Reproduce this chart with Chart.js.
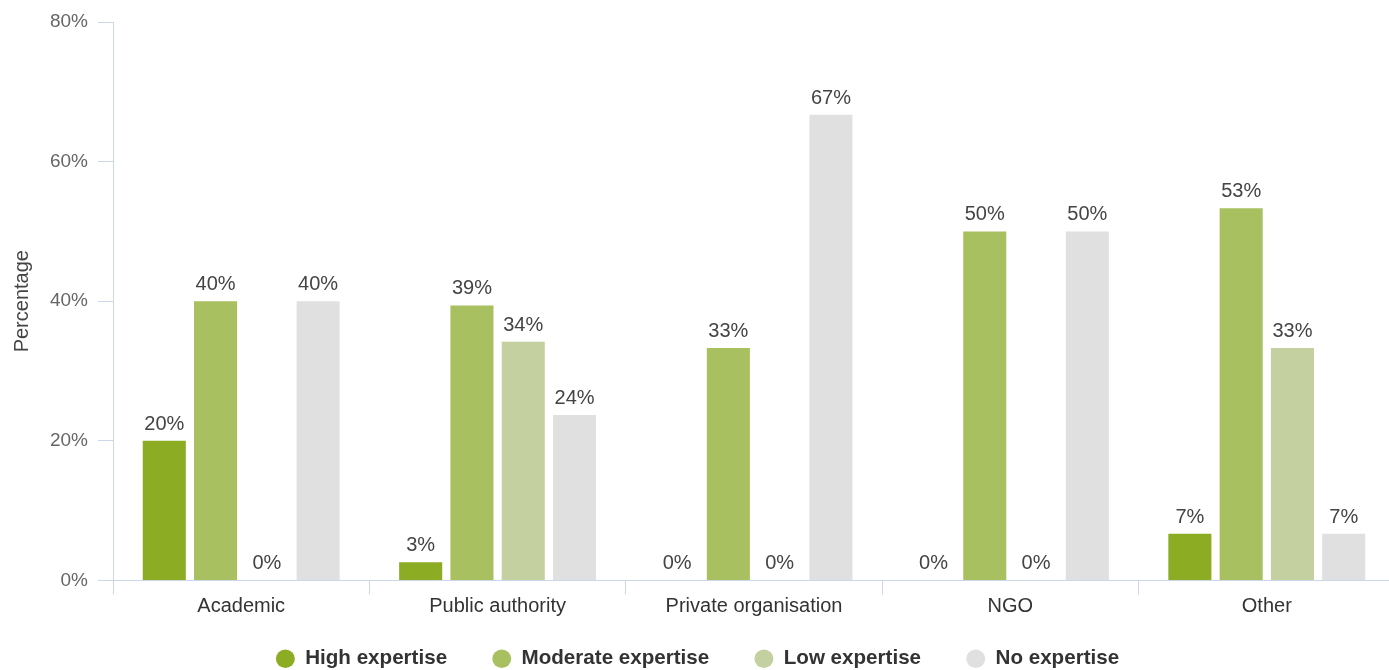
<!DOCTYPE html>
<html>
<head>
<meta charset="utf-8">
<title>Expertise by organisation type</title>
<script src="https://cdn.jsdelivr.net/npm/chart.js@4/dist/chart.umd.min.js"></script>
<style>
  html, body { margin: 0; padding: 0; background: #fff; overflow: hidden; }
  #wrap { width: 1400px; height: 679px; }
</style>
</head>
<body>
<div id="wrap"><canvas id="chart" width="1400" height="679"></canvas></div>
<script>
// Share of respondents per expertise level, by organisation type (%)
const categories = ["Academic", "Public authority", "Private organisation", "NGO", "Other"];
const highExpertise     = [20, 2.6, 0, 0, 6.7];
const moderateExpertise = [40, 39.4, 33.3, 50, 53.3];
const lowExpertise      = [0, 34.2, 0, 0, 33.3];
const noExpertise       = [40, 23.7, 66.7, 50, 6.7];
const yTicks = [0, 20, 40, 60, 80];

const FONT = "'Liberation Sans', Arial, sans-serif";
const AXIS = "#ccd6eb";

const ds = (label, data, color) => ({
  label, data, backgroundColor: color, borderWidth: 0,
});

// value labels above each bar
const valueLabels = {
  id: "valueLabels",
  afterDatasetsDraw(chart) {
    const ctx = chart.ctx;
    ctx.save();
    ctx.font = "20px " + FONT;
    ctx.fillStyle = "#444";
    ctx.textAlign = "center";
    ctx.textBaseline = "alphabetic";
    chart.data.datasets.forEach((d, i) => {
      chart.getDatasetMeta(i).data.forEach((bar, j) => {
        ctx.fillText(Math.round(d.data[j]) + "%", bar.x, bar.y - 11);
      });
    });
    ctx.restore();
  },
};

new Chart(document.getElementById("chart"), {
  type: "bar",
  data: {
    labels: categories,
    datasets: [
      ds("High expertise", highExpertise, "#8bac23"),
      ds("Moderate expertise", moderateExpertise, "#a8c060"),
      ds("Low expertise", lowExpertise, "#c4d0a0"),
      ds("No expertise", noExpertise, "#e0e0e0"),
    ],
  },
  options: {
    responsive: false,
    animation: false,
    layout: { padding: { top: 22, right: 5, left: 0, bottom: 0 } },
    datasets: { bar: { categoryPercentage: 0.8, barPercentage: 0.84 } },
    scales: {
      x: {
        afterFit: (s) => { s.height = 40; },
        border: { color: AXIS, width: 1 },
        grid: { drawOnChartArea: false, color: AXIS, tickLength: 14, offset: true },
        ticks: { color: "#333", padding: 0, font: { family: FONT, size: 20 } },
      },
      y: {
        min: 0, max: 80,
        afterFit: (s) => { s.width = 113; },
        afterBuildTicks: (s) => { s.ticks = yTicks.map((v) => ({ value: v })); },
        border: { color: AXIS, width: 1 },
        grid: { drawOnChartArea: false, color: AXIS, tickLength: 15 },
        ticks: {
          color: "#666", padding: 10, font: { family: FONT, size: 19 },
          callback: (v) => v + "%",
        },
        title: {
          display: true, text: "Percentage", color: "#444",
          padding: { top: 10, bottom: 0 },
          font: { family: FONT, size: 20 },
        },
      },
    },
    plugins: {
      tooltip: { enabled: false },
      legend: {
        position: "bottom",
        labels: {
          usePointStyle: true, pointStyle: "circle",
          boxHeight: 13, pointStyleWidth: 19, padding: 28,
          color: "#333", font: { family: FONT, size: 20.6, weight: "bold" },
          // a little extra room after every item but the last
          generateLabels: (chart) =>
            Chart.defaults.plugins.legend.labels.generateLabels(chart).map((item, i, all) => {
              if (i < all.length - 1) item.text += "   ";
              return item;
            }),
        },
      },
    },
  },
  plugins: [valueLabels],
});
</script>
</body>
</html>
